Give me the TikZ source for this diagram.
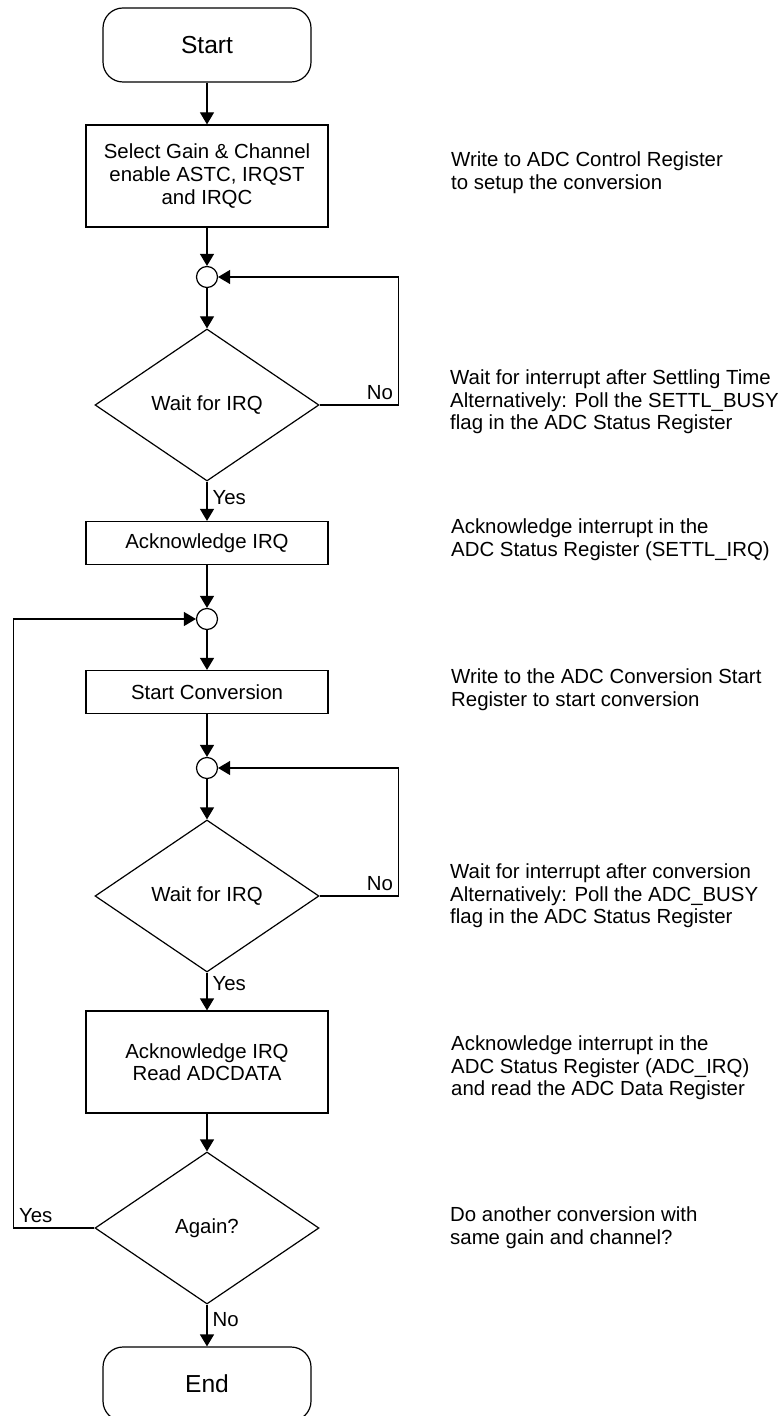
\documentclass[tikz,border=0pt]{standalone}
\usepackage{fontspec}
\setmainfont{Liberation Sans}
\usetikzlibrary{positioning,shapes.geometric,arrows.meta}

\tikzstyle{terminal}=[rectangle,draw,rounded corners=10pt,minimum width=104pt,minimum height=37pt,font=\fontsize{12.3pt}{14pt}\selectfont]
\tikzstyle{process}=[rectangle,draw,minimum width=121pt,align=center,font=\fontsize{10.2pt}{11.3pt}\selectfont]
\tikzstyle{decision}=[diamond,draw,minimum width=112pt,minimum height=76pt,inner sep=1pt,font=\fontsize{10.2pt}{12pt}\selectfont]
\tikzstyle{junction}=[circle,draw,minimum size=10.5pt,inner sep=0pt]
\tikzstyle{note}=[inner sep=0pt,align=left,font=\fontsize{10.2pt}{11.3pt}\selectfont]
\tikzstyle{answer}=[inner sep=2.5pt,font=\fontsize{10.2pt}{12pt}\selectfont]

\begin{document}
\begin{tikzpicture}[>={Triangle[length=6pt,width=7pt]},line width=0.6pt]
		\useasboundingbox (0,0) rectangle (391pt,-708pt);
		\node[terminal] (start) at (103.5pt,-22.5pt) {Start};
		\node[process,minimum height=51pt,below of=start,node distance=65.5pt] (select) {Select Gain \& Channel\\enable ASTC, IRQST\\and IRQC};
		\node[junction,below of=select,node distance=50.5pt] (j1) {};
		\node[decision,below of=j1,node distance=64pt] (wait1) {Wait for IRQ};
		\node[process,minimum height=21.5pt,below of=wait1,node distance=69pt] (ack1) {Acknowledge IRQ};
		\node[junction,below of=ack1,node distance=38pt] (j2) {};
		\node[process,minimum height=21.5pt,below of=j2,node distance=36.5pt] (conv) {Start Conversion};
		\node[junction,below of=conv,node distance=38pt] (j3) {};
		\node[decision,below of=j3,node distance=64pt] (wait2) {Wait for IRQ};
		\node[process,minimum height=51pt,below of=wait2,node distance=83pt] (read) {Acknowledge IRQ\\Read ADCDATA};
		\node[decision,below of=read,node distance=83pt] (again) {Again?};
		\node[terminal,below of=again,node distance=78pt] (end) {End};
		% notes on the right
		\node[note,right=61pt of select,yshift=1.5pt] (select_note) {Write to ADC Control Register\\to setup the conversion};
		\node[note,right=65pt of wait1,yshift=1.5pt] (wait1_note) {Wait for interrupt after Settling Time\\Alternatively: Poll the SETTL\_BUSY\\flag in the ADC Status Register};
		\node[note,right=61pt of ack1,yshift=1.5pt] (ack1_note) {Acknowledge interrupt in the\\ADC Status Register (SETTL\_IRQ)};
		\node[note,right=61pt of conv,yshift=1pt] (conv_note) {Write to the ADC Conversion Start\\Register to start conversion};
		\node[note,right=65pt of wait2] (wait2_note) {Wait for interrupt after conversion\\Alternatively: Poll the ADC\_BUSY\\flag in the ADC Status Register};
		\node[note,right=61pt of read,yshift=-3pt] (read_note) {Acknowledge interrupt in the\\ADC Status Register (ADC\_IRQ)\\and read the ADC Data Register};
		\node[note,right=65pt of again] (again_note) {Do another conversion with\\same gain and channel?};
		\draw[->] (start)--(select);
		\draw[->] (select)--(j1);
		\draw[->] (j1)--(wait1);
		\draw[->] (wait1)--node[answer,pos=0.4,right]{Yes}(ack1);
		\draw[->] (wait1.east)--++(39.5pt,0) node[answer,above left]{No} |- (j1);
		\draw[->] (ack1)--(j2);
		\draw[->] (j2)--(conv);
		\draw[->] (conv)--(j3);
		\draw[->] (j3)--(wait2);
		\draw[->] (wait2)--node[answer,pos=0.3,right]{Yes}(read);
		\draw[->] (wait2.east)--++(39.5pt,0) node[answer,above left]{No} |- (j3);
		\draw[->] (read)--(again);
		\draw[->] (again)--node[answer,pos=0.35,right]{No}(end);
		\draw[->] (again.west)--++(-40.5pt,0) node[answer,above right]{Yes} |- (j2);
	\end{tikzpicture}
\end{document}
